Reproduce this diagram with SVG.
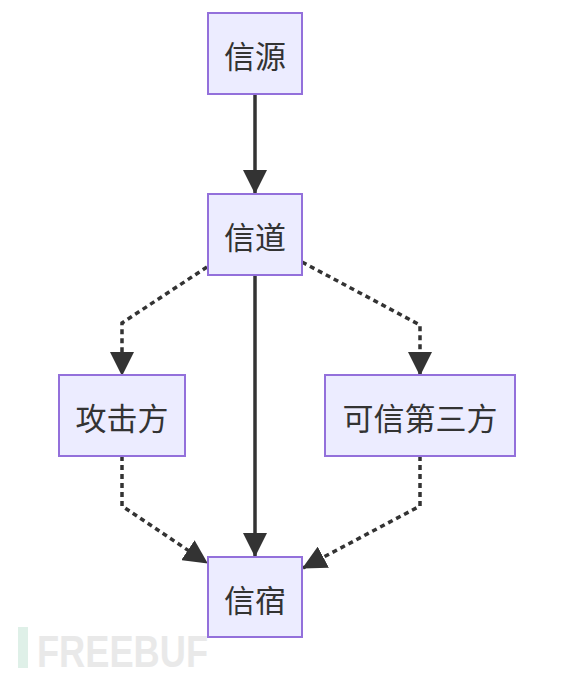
<svg xmlns="http://www.w3.org/2000/svg" width="577" height="676" viewBox="0 0 577 676">
<style>
.node rect{fill:#ECECFF;stroke:#9370DB;stroke-width:2}
.node text{font-family:"Noto Sans CJK SC","Noto Sans",sans-serif;font-size:31px;fill:#333;text-anchor:middle;dominant-baseline:central}
.edge{fill:none;stroke:#333;stroke-width:3.5}
.dot{stroke-dasharray:5 4;stroke-width:3.5}
</style>
<defs>
<marker id="ah" markerUnits="userSpaceOnUse" markerWidth="24" markerHeight="24" viewBox="0 0 24 24" refX="23" refY="12" orient="auto">
<path d="M0,0 L24,12 L0,24 z" fill="#333"/>
</marker>
</defs>
<rect width="577" height="676" fill="#fff"/>
<g id="watermark">
<rect x="18" y="627" width="10" height="41" fill="#dff0e8"/>
<text x="37" y="667" font-family="Liberation Sans,sans-serif" font-weight="bold" font-size="45" fill="#e9e9e9" textLength="171" lengthAdjust="spacingAndGlyphs">FREEBUF</text>
</g>
<g id="connectors">
<path class="edge" d="M255,94 L255,193" marker-end="url(#ah)"/>
<path class="edge" d="M255,275 L255,556" marker-end="url(#ah)"/>
<path class="edge dot" d="M207,267 L122,323 L122,375" marker-end="url(#ah)"/>
<path class="edge dot" d="M302,262 L420,325 L420,375" marker-end="url(#ah)"/>
<path class="edge dot" d="M122,456 L122,506 L207,563" marker-end="url(#ah)"/>
<path class="edge dot" d="M420,456 L420,506 L303,568" marker-end="url(#ah)"/>
</g>
<g id="n-source" class="node"><rect x="208" y="13" width="94" height="81"/><text x="255" y="54">信源</text></g>
<g id="n-channel" class="node"><rect x="208" y="194" width="94" height="81"/><text x="255" y="235">信道</text></g>
<g id="n-attacker" class="node"><rect x="59" y="375" width="126" height="81"/><text x="122" y="416">攻击方</text></g>
<g id="n-ttp" class="node"><rect x="325" y="375" width="190" height="81"/><text x="420" y="416">可信第三方</text></g>
<g id="n-sink" class="node"><rect x="208" y="557" width="94" height="80"/><text x="255" y="598">信宿</text></g>
</svg>
